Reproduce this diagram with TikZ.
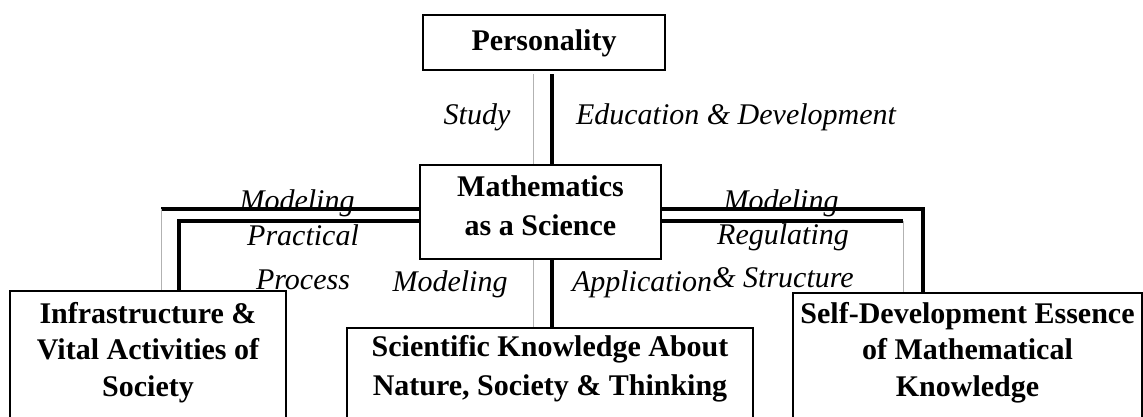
\documentclass[tikz,border=0pt]{standalone}
\usepackage{fontspec}
\setmainfont{Liberation Serif}

\begin{document}
\begin{tikzpicture}[x=0.4pt,y=-0.4pt,
  box/.style={draw,line width=0.9pt,anchor=north,align=center,inner xsep=2pt,inner ysep=0pt,
    font=\bfseries\fontsize{12}{14.6}\selectfont},
  lbl/.style={anchor=base,inner sep=0pt,font=\itshape\fontsize{12}{14.4}\selectfont},
  heavy/.style={line width=1.3pt},
  faint/.style={line width=0.4pt,black!30}]
\useasboundingbox (0,0) rectangle (1143,417);
\clip (0,0) rectangle (1143,417);
\node[box,minimum width=96.8pt,text height=14pt,text depth=8pt] (pers) at (544,14) {Personality};
\node[box,minimum width=96.4pt,text height=28pt,text depth=9.6pt,
  font=\bfseries\fontsize{12}{15.6}\selectfont] (math) at (540.5,164) {Mathematics\\as a Science};
\node[box,minimum width=110.4pt,text height=42pt,text depth=40pt] (infra) at (148,290)
  {Infrastructure \&\\Vital Activities of\\Society};
\node[box,minimum width=162.4pt,text height=26.8pt,text depth=40pt,
  font=\bfseries\fontsize{12}{15.6}\selectfont] (sci) at (550,327)
  {Scientific Knowledge About\\Nature, Society \& Thinking};
\node[box,minimum width=139.6pt,text height=41.2pt,text depth=40pt] (self) at (967.5,292)
  {Self-Development Essence\\of Mathematical\\Knowledge};
\coordinate (g) at (533,0);
\coordinate (b) at (552,0);
\coordinate (lt) at (161,209);
\coordinate (lb) at (179,221);
\coordinate (rt) at (923,209);
\coordinate (rb) at (903,221);
\draw[faint,shorten <=1.2pt] (pers.south -| g) -- (math.north -| g);
\draw[heavy,shorten <=1.2pt] (pers.south -| b) -- (math.north -| b);
\draw[faint] (math.south -| g) -- (sci.north -| g);
\draw[heavy] (math.south -| b) -- (sci.north -| b);
\draw[heavy] (math.west |- lt) -- (lt);
\draw[faint] (lt) -- (lt |- infra.north);
\draw[heavy] (math.west |- lb) -- (lb) -- (lb |- infra.north);
\draw[heavy] (math.east |- rt) -- (rt) -- (rt |- self.north);
\draw[heavy] (math.east |- rb) -- (rb);
\draw[faint] (rb) -- (rb |- self.north);
\node[lbl] (study) at (477,125) {Study};
\node[lbl] (edu) at (736,125) {Education \& Development};
\node[lbl] (modl) at (297,211) {Modeling};
\node[lbl] (prac) at (303,246) {Practical};
\node[lbl] (proc) at (303,290) {Process};
\node[lbl] (modm) at (450,292) {Modeling};
\node[lbl] (appl) at (642,292) {Application};
\node[lbl] (struc) at (783,288) {\& Structure};
\node[lbl] (modr) at (781,211) {Modeling};
\node[lbl] (regu) at (783,245) {Regulating};
\end{tikzpicture}
\end{document}
